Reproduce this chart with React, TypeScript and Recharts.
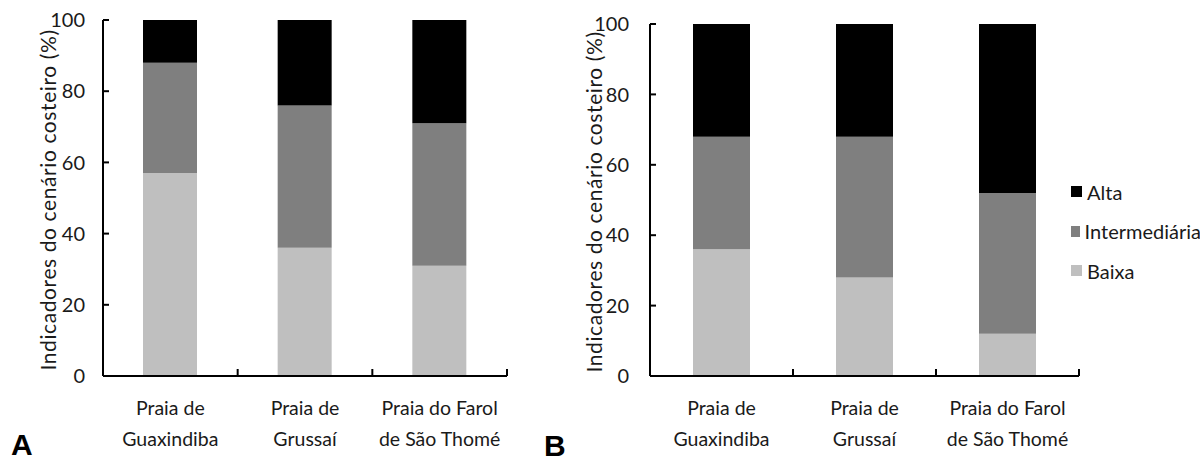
import React from 'react';
import { BarChart, Bar, XAxis, YAxis, Legend } from 'recharts';

const categories = ['Praia de Guaxindiba', 'Praia de Grussaí', 'Praia do Farol de São Thomé'];
const categoryLines: Record<string, string[]> = {
  'Praia de Guaxindiba': ['Praia de', 'Guaxindiba'],
  'Praia de Grussaí': ['Praia de', 'Grussaí'],
  'Praia do Farol de São Thomé': ['Praia do Farol', 'de São Thomé'],
};
const seriesNames = ['Baixa', 'Intermediária', 'Alta'];
const seriesColors = ['#BFBFBF', '#7F7F7F', '#000000'];

const baixaA = [57, 36, 31];
const intermediariaA = [31, 40, 40];
const altaA = [12, 24, 29];

const baixaB = [36, 28, 12];
const intermediariaB = [32, 40, 40];
const altaB = [32, 32, 48];

const yTicks = [0, 20, 40, 60, 80, 100];
const yLabel = 'Indicadores do cenário costeiro (%)';

const FONT = 'Lato, "Open Sans", sans-serif';
const TEXT_COLOR = '#1a1a1a';

function buildRows(b: number[], m: number[], a: number[]) {
  return categories.map((c, k) => ({ name: c, Baixa: b[k], 'Intermediária': m[k], Alta: a[k] }));
}

const dataA = buildRows(baixaA, intermediariaA, altaA);
const dataB = buildRows(baixaB, intermediariaB, altaB);

const makeXTick = (bandWidth: number) => (props: any) => {
  const { x, y, payload } = props;
  const lines = categoryLines[payload.value] || [payload.value];
  return (
    <g>
      <line x1={x + bandWidth / 2} x2={x + bandWidth / 2} y1={y} y2={y - 7} stroke="#000" strokeWidth={2} />
      {lines.map((l, i) => (
        <text key={i} x={x} y={y + 39 + i * 31} textAnchor="middle" fontFamily={FONT} fontSize={19.5} fill={TEXT_COLOR}>
          {l}
        </text>
      ))}
    </g>
  );
};

const makeYTick = (gap: number) => (props: any) => {
  const { x, y, payload } = props;
  return (
    <g>
      <line x1={x} x2={x + 6} y1={y} y2={y} stroke="#000" strokeWidth={2} />
      <text x={x - gap} y={y} dy="0.36em" textAnchor="end" fontFamily={FONT} fontSize={20} fill={TEXT_COLOR}>
        {payload.value}
      </text>
    </g>
  );
};

const makeYLabel = (cx: number) => (props: any) => {
  const vb = props.viewBox || {};
  const cy = (vb.y || 0) + (vb.height || 0) / 2 + 2;
  return (
    <text
      x={cx}
      y={cy}
      transform={`rotate(-90, ${cx}, ${cy})`}
      textAnchor="middle"
      dominantBaseline="central"
      fontFamily={FONT}
      fontSize={21}
      letterSpacing={0.6}
      fill={TEXT_COLOR}
    >
      {yLabel}
    </text>
  );
};

const LegendContent = (props: any) => {
  const payload = [...(props.payload || [])].sort(
    (p: any, q: any) => seriesNames.indexOf(q.value) - seriesNames.indexOf(p.value)
  );
  return (
    <div>
      {payload.map((p: any) => (
        <div key={p.value} style={{ display: 'flex', alignItems: 'center', height: 39.5 }}>
          <div style={{ width: 11, height: 11, background: p.color, marginRight: 5 }} />
          <span style={{ fontFamily: FONT, fontSize: 20, color: TEXT_COLOR, lineHeight: '20px' }}>{p.value}</span>
        </div>
      ))}
    </div>
  );
};

const labelStyle: React.CSSProperties = {
  position: 'absolute',
  fontFamily: '"Liberation Sans", Arial, sans-serif',
  fontWeight: 'bold',
  fontSize: 30,
  lineHeight: '22px',
  height: 22,
  color: '#000',
};

export default function App() {
  const bwA = (520 - 13 - 103) / 3;
  const bwB = (660 - 121 - 110) / 3;
  return (
    <div style={{ position: 'absolute', left: 0, top: 0, width: 1200, height: 463, background: '#fff', overflow: 'hidden' }}>
      <div style={{ position: 'absolute', left: 0, top: 0 }}>
        <BarChart width={520} height={463} data={dataA} margin={{ top: 20, right: 13, bottom: 27, left: 0 }}>
          <XAxis
            dataKey="name"
            height={60}
            tickLine={false}
            tickSize={0}
            tickMargin={0}
            axisLine={{ stroke: '#000', strokeWidth: 2 }}
            tick={makeXTick(bwA)}
            interval={0}
          />
          <YAxis
            width={103}
            domain={[0, 100]}
            ticks={yTicks}
            tickLine={false}
            tickSize={0}
            tickMargin={0}
            axisLine={{ stroke: '#000', strokeWidth: 2 }}
            tick={makeYTick(18)}
            label={{ content: makeYLabel(47) }}
          />
          {seriesNames.map((s, i) => (
            <Bar key={s} dataKey={s} stackId="a" fill={seriesColors[i]} barSize={54} isAnimationActive={false} />
          ))}
        </BarChart>
      </div>
      <div style={{ position: 'absolute', left: 540, top: 0 }}>
        <BarChart width={660} height={463} data={dataB} margin={{ top: 24, right: 121, bottom: 27, left: 0 }}>
          <XAxis
            dataKey="name"
            height={60}
            tickLine={false}
            tickSize={0}
            tickMargin={0}
            axisLine={{ stroke: '#000', strokeWidth: 2 }}
            tick={makeXTick(bwB)}
            interval={0}
          />
          <YAxis
            width={110}
            domain={[0, 100]}
            ticks={yTicks}
            tickLine={false}
            tickSize={0}
            tickMargin={0}
            axisLine={{ stroke: '#000', strokeWidth: 2 }}
            tick={makeYTick(21)}
            label={{ content: makeYLabel(53) }}
          />
          {seriesNames.map((s, i) => (
            <Bar key={s} dataKey={s} stackId="a" fill={seriesColors[i]} barSize={57} isAnimationActive={false} />
          ))}
          <Legend
            layout="vertical"
            align="center"
            verticalAlign="middle"
            content={LegendContent}
            wrapperStyle={{ left: 531, top: 172, width: 130 }}
          />
        </BarChart>
      </div>
      <div style={{ ...labelStyle, left: 11, top: 434 }}>A</div>
      <div style={{ ...labelStyle, left: 544, top: 435 }}>B</div>
    </div>
  );
}
